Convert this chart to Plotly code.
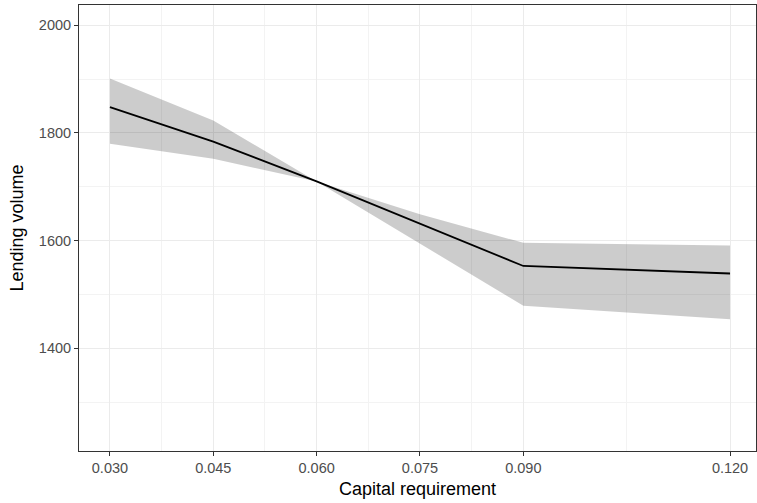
import plotly.graph_objects as go

# capital requirement levels and simulated lending volume (mean + band)
capital_req = [0.030, 0.045, 0.060, 0.075, 0.090, 0.120]
lending_mean = [1848, 1784, 1710, 1632, 1553, 1539]
lending_upper = [1901, 1823, 1710, 1649, 1596, 1591]
lending_lower = [1780, 1752, 1710, 1595, 1479, 1454]

x_ticks = [0.030, 0.045, 0.060, 0.075, 0.090, 0.120]
x_minor = [0.0375, 0.0525, 0.0675, 0.0825, 0.105]
y_ticks = [1400, 1600, 1800, 2000]
y_minor = [1300, 1500, 1700, 1900]

font_family = "Liberation Sans, Arial, sans-serif"

fig = go.Figure()

# ribbon: upper edge first, then lower edge filled to it
fig.add_trace(go.Scatter(
    x=capital_req, y=lending_upper,
    mode="lines", line=dict(width=0),
    hoverinfo="skip", showlegend=False,
))
fig.add_trace(go.Scatter(
    x=capital_req, y=lending_lower,
    mode="lines", line=dict(width=0),
    fill="tonexty", fillcolor="rgba(0,0,0,0.2)",
    hoverinfo="skip", showlegend=False,
))
fig.add_trace(go.Scatter(
    x=capital_req, y=lending_mean,
    mode="lines", line=dict(color="black", width=1.8),
    showlegend=False,
))

axis_common = dict(
    showline=True, mirror=True, linecolor="#333333", linewidth=1,
    ticks="outside", ticklen=4, tickcolor="#333333", tickwidth=1,
    showgrid=True, gridcolor="#EBEBEB", gridwidth=1,
    zeroline=False,
    tickfont=dict(family=font_family, size=14.5, color="#4D4D4D"),
)

fig.update_xaxes(
    **axis_common,
    range=[0.02551, 0.12377],
    tickmode="array", tickvals=x_ticks, tickformat=".3f",
    minor=dict(tickmode="array", tickvals=x_minor, showgrid=True,
               gridcolor="#F3F3F3", gridwidth=0.6, ticks=""),
    title=dict(text="Capital requirement", standoff=6,
               font=dict(family=font_family, size=18, color="black")),
)
fig.update_yaxes(
    **axis_common,
    range=[1209.5, 2037.5],
    tickmode="array", tickvals=y_ticks,
    minor=dict(tickmode="array", tickvals=y_minor, showgrid=True,
               gridcolor="#F3F3F3", gridwidth=0.6, ticks=""),
    title=dict(text="Lending volume", standoff=10,
               font=dict(family=font_family, size=18, color="black")),
)

fig.update_layout(
    width=757, height=503,
    margin=dict(l=79, r=1, t=5, b=52),
    paper_bgcolor="white", plot_bgcolor="white",
    font=dict(family=font_family),
)

# drop the default page margin so the figure sits flush in the window
fig.write_html("out.html", config={"displayModeBar": False},
               post_script="document.body.style.margin='0';")
